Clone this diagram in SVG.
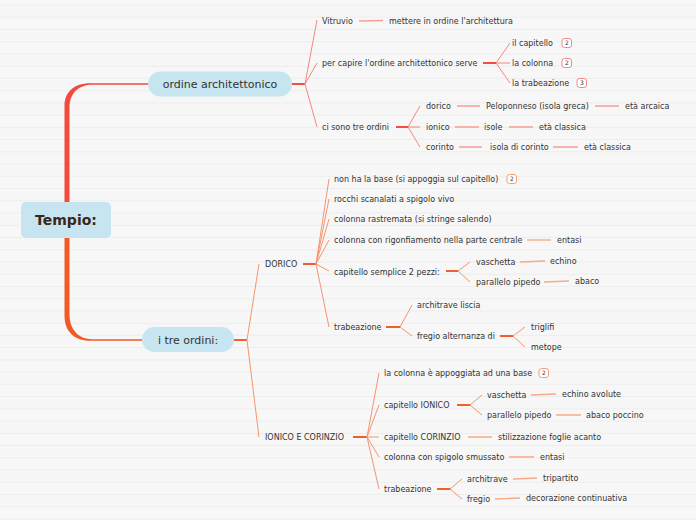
<svg xmlns="http://www.w3.org/2000/svg" width="696" height="520" viewBox="0 0 696 520">
<defs>
<style>
text{font-family:"DejaVu Sans",Verdana,sans-serif;fill:#333}
.s{font-size:8px}
.n{font-size:11px;text-anchor:middle;fill:#333}
.root{font-size:14px;font-weight:bold;text-anchor:middle;fill:#3a2718}
.box{fill:#c6e5f0}
.rl{stroke:#f4887d;stroke-width:1;fill:none}
.rs{stroke:#ef4f42;stroke-width:2;fill:none}
.rc{stroke:#f5a097;stroke-width:1.4;fill:none}
.ol{stroke:#f6946d;stroke-width:1;fill:none}
.os{stroke:#f0602f;stroke-width:2;fill:none}
.oc{stroke:#f7a988;stroke-width:1.4;fill:none}
.bdr{fill:#fff;stroke:#f08a80;stroke-width:1}
.bdo{fill:#fff;stroke:#f4a07a;stroke-width:1}
.bt{font-size:6px;text-anchor:middle}
</style>
</defs>
<rect width="696" height="520" fill="#f7f7f7"/>
<path stroke="#ededed" stroke-width="1" d="M0 5H696M0 17.2H696M0 29.5H696M0 41.7H696M0 54H696M0 66.2H696M0 78.4H696M0 90.7H696M0 102.9H696M0 115.1H696M0 127.4H696M0 139.6H696M0 151.8H696M0 164.1H696M0 176.3H696M0 188.6H696M0 200.8H696M0 213H696M0 225.3H696M0 237.5H696M0 249.7H696M0 262H696M0 274.2H696M0 286.5H696M0 298.7H696M0 310.9H696M0 323.2H696M0 335.4H696M0 347.6H696M0 359.9H696M0 372.1H696M0 384.4H696M0 396.6H696M0 408.8H696M0 421.1H696M0 433.3H696M0 445.5H696M0 457.8H696M0 470H696M0 482.2H696M0 494.5H696M0 506.7H696M0 519H696"/>

<g id="connectors">
<path fill="#f24a3c" d="M64.5,202 V106 C64.5,92 74,83.2 90,83.2 H148 V84.8 H92 C80,84.8 69.5,92 69.5,108 V202 Z"/>
<path fill="#f15a27" d="M64.5,238 V316 C64.5,331 74,340.8 90,340.8 H142 V339.2 H92 C80,339.2 69.5,331 69.5,314 V238 Z"/>
<path class="rs" d="M292 84H305"/>
<path class="rl" d="M305 84L317 20M305 84L317 63M305 84L317 127"/>
<path class="rc" d="M359 21L383 20.5"/>
<path class="rs" d="M483 63H496"/>
<path class="rl" d="M496 63L510 43M496 63H510M496 63L510 83"/>
<path class="rs" d="M396 127H408"/>
<path class="rl" d="M408 127L420 106M408 127H420M408 127L420 147"/>
<path class="rc" d="M457 106H480M595 106H619M455 127H479M509 127H533M459 147H482M553 147H578"/>
<path class="os" d="M234 340H247"/>
<path class="ol" d="M247 340L259 264M247 340L259 437"/>
<path class="os" d="M303 264H316"/>
<path class="ol" d="M316 264L329 179M316 264L329 199M316 264L329 219M316 264L329 240M316 264L329 271M316 264L329 327"/>
<path class="oc" d="M527 240H551"/>
<path class="os" d="M446 271H458"/>
<path class="ol" d="M458 271L470 262M458 271L470 282"/>
<path class="oc" d="M520 262L545 261M544 282L569 281"/>
<path class="os" d="M386 327H400"/>
<path class="ol" d="M400 327L412 305M400 327L412 336"/>
<path class="os" d="M500 336H513"/>
<path class="ol" d="M513 336L525 327M513 336L525 347"/>
<path class="os" d="M353 437H367"/>
<path class="ol" d="M367 437L379 373M367 437L379 405M367 437H379M367 437L379 457M367 437L379 489"/>
<path class="os" d="M457 405H470"/>
<path class="ol" d="M470 405L482 395M470 405L482 415"/>
<path class="oc" d="M531 395L556 394M556 415L581 415M468 437H492M509 457H534"/>
<path class="os" d="M437 489H450"/>
<path class="ol" d="M450 489L462 479M450 489L462 499"/>
<path class="oc" d="M513 479L537 478M495 499L520 498"/>
</g>

<g id="root"><rect class="box" x="21" y="202" width="90" height="36" rx="5"/><text class="root" x="66" y="225">Tempio:</text></g>
<g id="n-ordine"><rect class="box" x="148" y="71.5" width="144" height="25" rx="12.5"/><text class="n" x="220" y="88">ordine architettonico</text></g>
<g id="n-tre"><rect class="box" x="142" y="327" width="92" height="25" rx="12.5"/><text class="n" x="188" y="344">i tre ordini:</text></g>

<g id="n-vitruvio"><text class="s" x="322" y="23.7">Vitruvio</text></g>
<g id="n-mettere"><text class="s" x="389" y="23.7">mettere in ordine l'architettura</text></g>
<g id="n-percapire"><text class="s" x="322" y="66">per capire l'ordine architettonico serve</text></g>
<g id="n-capitello"><text class="s" x="512" y="46">il capitello</text><rect class="bdr" x="562" y="38.5" width="9.5" height="9" rx="2.5"/><text class="bt" x="566.8" y="45.2">2</text></g>
<g id="n-colonna"><text class="s" x="512" y="66">la colonna</text><rect class="bdr" x="562" y="58.5" width="9.5" height="9" rx="2.5"/><text class="bt" x="566.8" y="65.2">2</text></g>
<g id="n-trabeazione1"><text class="s" x="512" y="86">la trabeazione</text><rect class="bdr" x="577" y="78.5" width="9.5" height="9" rx="2.5"/><text class="bt" x="581.8" y="85.2">3</text></g>
<g id="n-cisono"><text class="s" x="322" y="130">ci sono tre ordini</text></g>
<g id="n-dorico"><text class="s" x="426" y="109">dorico</text></g>
<g id="n-pelop"><text class="s" x="486" y="109">Peloponneso (isola greca)</text></g>
<g id="n-arcaica"><text class="s" x="625" y="109">età arcaica</text></g>
<g id="n-ionico"><text class="s" x="426" y="130">ionico</text></g>
<g id="n-isole"><text class="s" x="484" y="130">isole</text></g>
<g id="n-classica1"><text class="s" x="539" y="130">età classica</text></g>
<g id="n-corinto"><text class="s" x="426" y="150">corinto</text></g>
<g id="n-isolacor"><text class="s" x="490" y="150">isola di corinto</text></g>
<g id="n-classica2"><text class="s" x="584" y="150">età classica</text></g>

<g id="n-DORICO"><text class="s" x="265" y="267">DORICO</text></g>
<g id="n-nonha"><text class="s" x="334" y="182">non ha la base (si appoggia sul capitello)</text><rect class="bdo" x="507" y="174.5" width="9.5" height="9" rx="2.5"/><text class="bt" x="511.8" y="181.2">2</text></g>
<g id="n-rocchi"><text class="s" x="334" y="202">rocchi scanalati a spigolo vivo</text></g>
<g id="n-rastremata"><text class="s" x="334" y="222">colonna rastremata (si stringe salendo)</text></g>
<g id="n-rigonf"><text class="s" x="334" y="243">colonna con rigonfiamento nella parte centrale</text></g>
<g id="n-entasi1"><text class="s" x="557" y="243">entasi</text></g>
<g id="n-capsemplice"><text class="s" x="334" y="274.5">capitello semplice 2 pezzi:</text></g>
<g id="n-vaschetta1"><text class="s" x="476" y="265">vaschetta</text></g>
<g id="n-echino1"><text class="s" x="550" y="264">echino</text></g>
<g id="n-parall1"><text class="s" x="476" y="285">parallelo pipedo</text></g>
<g id="n-abaco1"><text class="s" x="575" y="284">abaco</text></g>
<g id="n-trab2"><text class="s" x="334" y="330">trabeazione</text></g>
<g id="n-archliscia"><text class="s" x="417" y="308">architrave liscia</text></g>
<g id="n-fregioalt"><text class="s" x="417" y="339">fregio alternanza di</text></g>
<g id="n-triglifi"><text class="s" x="531" y="330">triglifi</text></g>
<g id="n-metope"><text class="s" x="531" y="350">metope</text></g>

<g id="n-IONCOR"><text class="s" x="265" y="440">IONICO E CORINZIO</text></g>
<g id="n-appoggiata"><text class="s" x="384" y="376">la colonna è appoggiata ad una base</text><rect class="bdo" x="539" y="368.5" width="9.5" height="9" rx="2.5"/><text class="bt" x="543.8" y="375.2">2</text></g>
<g id="n-capionico"><text class="s" x="384" y="408">capitello IONICO</text></g>
<g id="n-vaschetta2"><text class="s" x="487" y="398">vaschetta</text></g>
<g id="n-echino2"><text class="s" x="562" y="397">echino avolute</text></g>
<g id="n-parall2"><text class="s" x="487" y="418">parallelo pipedo</text></g>
<g id="n-abaco2"><text class="s" x="586" y="418">abaco poccino</text></g>
<g id="n-capcor"><text class="s" x="384" y="440">capitello CORINZIO</text></g>
<g id="n-stiliz"><text class="s" x="498" y="440">stilizzazione foglie acanto</text></g>
<g id="n-spigolo"><text class="s" x="384" y="460">colonna con spigolo smussato</text></g>
<g id="n-entasi2"><text class="s" x="540" y="460">entasi</text></g>
<g id="n-trab3"><text class="s" x="384" y="492">trabeazione</text></g>
<g id="n-architrave"><text class="s" x="467" y="482">architrave</text></g>
<g id="n-tripartito"><text class="s" x="543" y="481">tripartito</text></g>
<g id="n-fregio"><text class="s" x="467" y="502">fregio</text></g>
<g id="n-decor"><text class="s" x="526" y="501">decorazione continuativa</text></g>
</svg>
